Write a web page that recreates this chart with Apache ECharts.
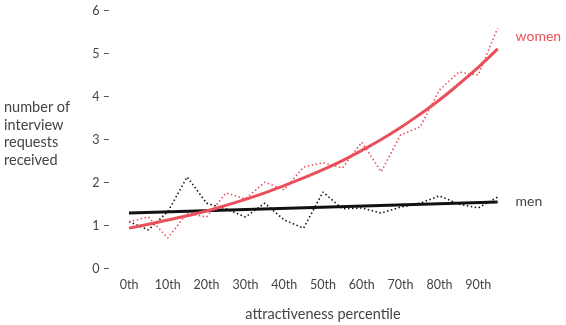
<!DOCTYPE html>
<html>
<head>
<meta charset="utf-8">
<script src="https://cdn.jsdelivr.net/npm/echarts@6/dist/echarts.min.js"></script>
<style>
  html, body { margin: 0; padding: 0; background: #fff; }
  #chart { width: 566px; height: 325px; }
</style>
</head>
<body>
<div id="chart"></div>
<script>
// attractiveness percentile buckets (every 5th percentile)
const percentiles = [0, 5, 10, 15, 20, 25, 30, 35, 40, 45, 50, 55, 60, 65, 70, 75, 80, 85, 90, 95];

// observed interview requests
const womenObserved = [1.10, 1.21, 0.72, 1.30, 1.21, 1.77, 1.63, 2.02, 1.84, 2.37, 2.47, 2.35, 2.95, 2.26, 3.12, 3.30, 4.16, 4.58, 4.51, 5.60];
const menObserved   = [1.10, 0.91, 1.33, 2.14, 1.53, 1.40, 1.21, 1.53, 1.14, 0.95, 1.79, 1.40, 1.42, 1.30, 1.44, 1.53, 1.70, 1.51, 1.42, 1.67];

// fitted trends
const womenTrend = [0.95, 1.04, 1.14, 1.24, 1.35, 1.48, 1.62, 1.77, 1.94, 2.12, 2.31, 2.52, 2.76, 3.01, 3.29, 3.60, 3.93, 4.30, 4.69, 5.12];
const menTrendPercentiles = [0, 95];
const menTrend = [1.30, 1.56];

const yTicks = [0, 1, 2, 3, 4, 5, 6];

const RED = '#e9505c';
const DARK = '#111111';
const TEXT = '#444444';
const FONT = 'Lato';

const pairs = (xs, ys) => xs.map((x, i) => [x, ys[i]]);

const chart = echarts.init(document.getElementById('chart'), null, { renderer: 'canvas' });

chart.setOption({
  animation: false,
  backgroundColor: '#ffffff',
  textStyle: { fontFamily: FONT, color: TEXT },
  grid: { left: 129, right: 49, top: 11, bottom: 56, containLabel: false, outerBoundsMode: 'none' },
  xAxis: {
    type: 'value',
    min: 0,
    max: 100,
    interval: 10,
    name: 'attractiveness percentile',
    nameLocation: 'middle',
    nameGap: 38,
    nameTextStyle: { fontFamily: FONT, fontSize: 14.5, color: TEXT },
    axisLine: { show: false },
    axisTick: { show: false },
    splitLine: { show: false },
    axisLabel: {
      margin: 9,
      fontFamily: FONT,
      fontSize: 12.5,
      color: TEXT,
      showMaxLabel: false,
      formatter: v => (v >= 100 ? '' : v + 'th')
    }
  },
  yAxis: {
    type: 'value',
    min: yTicks[0],
    max: yTicks[yTicks.length - 1],
    interval: 1,
    axisLine: { show: false },
    axisTick: { show: false },
    splitLine: { show: false },
    axisLabel: {
      margin: 19,
      fontFamily: FONT,
      fontSize: 12.5,
      color: TEXT,
      formatter: v => v + ' \u2013'
    }
  },
  graphic: [{
    type: 'text',
    left: 4,
    top: 99,
    style: {
      text: 'number of\ninterview\nrequests\nreceived',
      fontFamily: FONT,
      fontSize: 14.5,
      lineHeight: 17.5,
      fill: TEXT
    }
  }],
  series: [
    {
      name: 'men observed',
      type: 'line',
      data: pairs(percentiles, menObserved),
      symbol: 'none',
      lineStyle: { color: DARK, width: 1.6, type: [1.5, 2.5] },
      z: 2
    },
    {
      name: 'women observed',
      type: 'line',
      data: pairs(percentiles, womenObserved),
      symbol: 'none',
      lineStyle: { color: RED, width: 1.6, type: [1.5, 2.5] },
      z: 2
    },
    {
      name: 'men',
      type: 'line',
      data: pairs(menTrendPercentiles, menTrend),
      symbol: 'none',
      lineStyle: { color: DARK, width: 3 },
      z: 3,
      endLabel: {
        show: true,
        formatter: 'men',
        distance: 18,
        fontFamily: FONT,
        fontSize: 14,
        color: TEXT
      }
    },
    {
      name: 'women',
      type: 'line',
      data: pairs(percentiles, womenTrend),
      smooth: true,
      symbol: 'none',
      lineStyle: { color: RED, width: 3 },
      z: 4,
      endLabel: {
        show: true,
        formatter: 'women',
        distance: 18,
        offset: [0, -12],
        fontFamily: FONT,
        fontSize: 14,
        color: RED
      }
    }
  ]
});
</script>
</body>
</html>
